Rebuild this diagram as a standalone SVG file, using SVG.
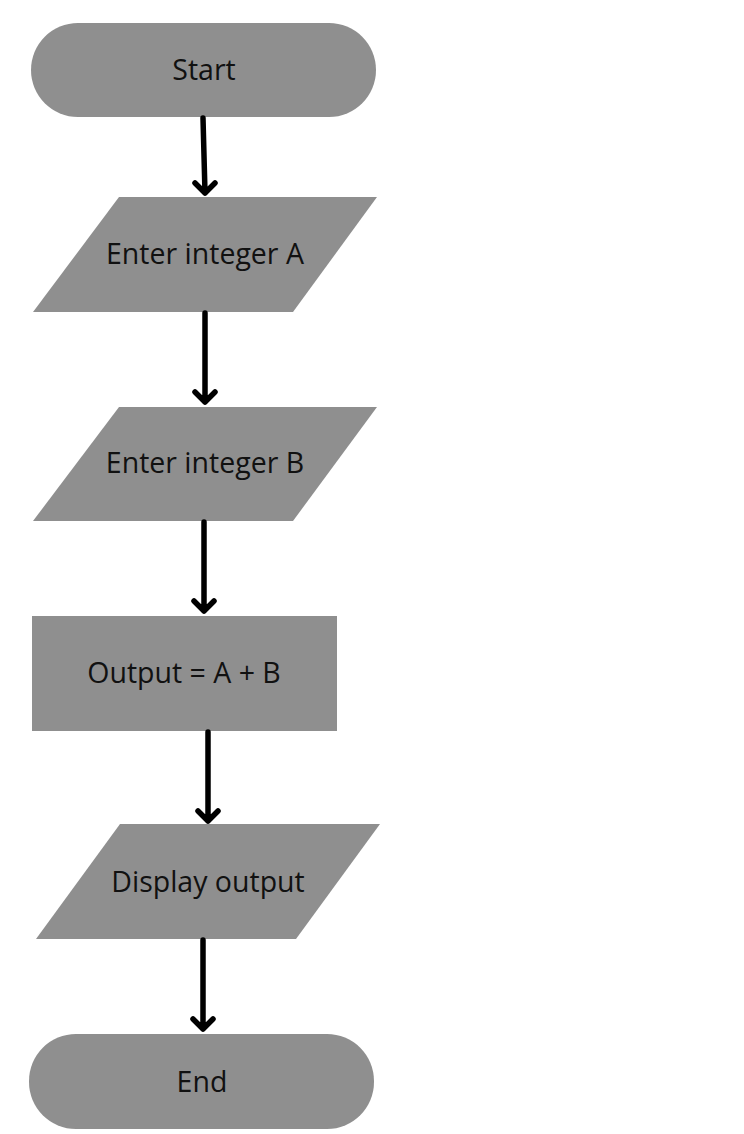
<svg xmlns="http://www.w3.org/2000/svg" width="744" height="1134" viewBox="0 0 744 1134">
<defs>
<style>
.shape{fill:#8f8f8f;}
.lbl{font-family:"Open Sans","Noto Sans",sans-serif;font-size:28.5px;fill:#111;text-anchor:middle;}
.conn{stroke:#000;stroke-width:5.5;fill:none;stroke-linecap:round;stroke-linejoin:round;}
</style>
</defs>
<rect width="744" height="1134" fill="#fff"/>
<g id="start">
<rect class="shape" x="31" y="23" width="345" height="94" rx="47"/>
<text class="lbl" x="204" y="80">Start</text>
</g>
<g id="enterA">
<polygon class="shape" points="119,197 377,197 293,312 33,312"/>
<text class="lbl" x="205" y="264">Enter integer A</text>
</g>
<g id="enterB">
<polygon class="shape" points="119,407 377,407 293,521 33,521"/>
<text class="lbl" x="205" y="473">Enter integer B</text>
</g>
<g id="compute">
<rect class="shape" x="32" y="616" width="305" height="115"/>
<text class="lbl" x="184" y="683">Output = A + B</text>
</g>
<g id="display">
<polygon class="shape" points="120,824 380,824 296,939 36,939"/>
<text class="lbl" x="208" y="892">Display output</text>
</g>
<g id="end">
<rect class="shape" x="29" y="1034" width="345" height="95" rx="47"/>
<text class="lbl" x="202" y="1092">End</text>
</g>
<g id="connectors">
<path class="conn" d="M203,118 L205,193 M195,183 L205,193 L215,183"/>
<path class="conn" d="M205,313 L205,402 M195,392 L205,402 L215,392"/>
<path class="conn" d="M204,522 L204,611 M194,601 L204,611 L214,601"/>
<path class="conn" d="M208,732 L208,821 M198,811 L208,821 L218,811"/>
<path class="conn" d="M203,940 L203,1029 M193,1019 L203,1029 L213,1019"/>
</g>
</svg>
